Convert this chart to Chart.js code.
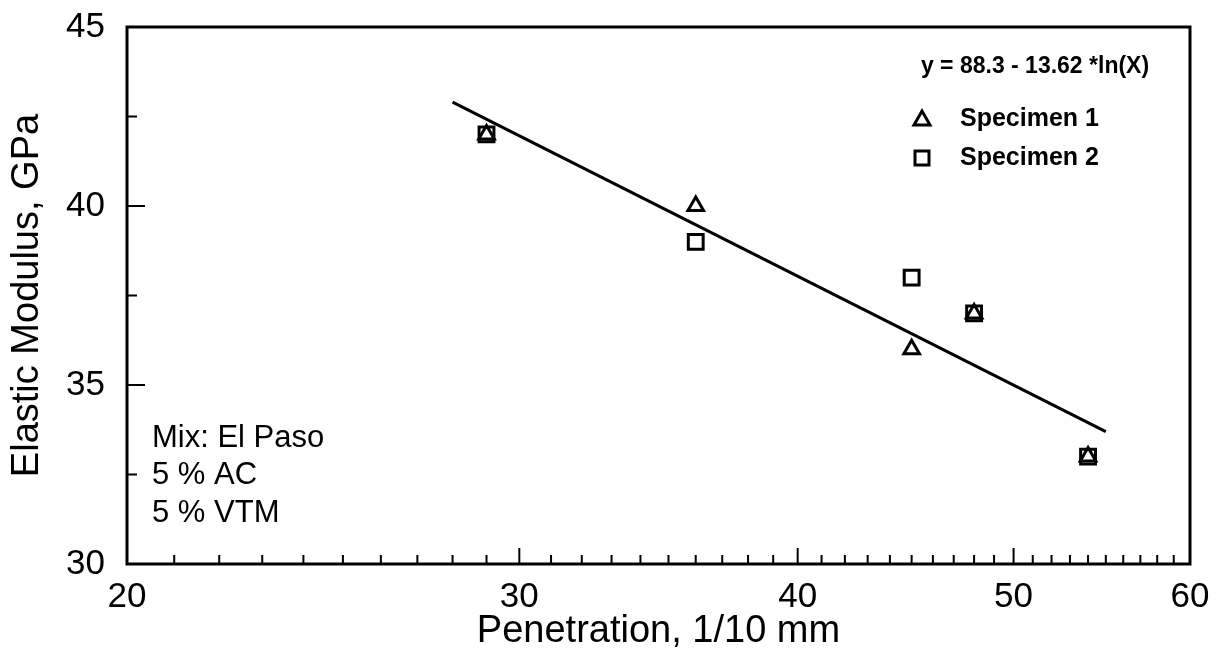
<!DOCTYPE html>
<html>
<head>
<meta charset="utf-8">
<title>Elastic Modulus vs Penetration</title>
<script src="https://cdn.jsdelivr.net/npm/chart.js@4.4.1/dist/chart.umd.min.js"></script>
<style>
  html, body { margin: 0; padding: 0; background: #fff; }
  canvas { display: block; }
</style>
</head>
<body>
<canvas id="chart" width="1217" height="658"></canvas>
<script>
// data
const penetration = [29, 36, 45, 48, 54];
const specimen1 = [42, 40, 36, 37, 33];
const specimen2 = [42, 39, 38, 37, 33];
// regression line end points (straight on a log x axis)
const fitX = [28, 55];
const fitY = [42.9, 33.7];
const xTicks = [20, 30, 40, 50, 60];
const yTicks = [30, 35, 40, 45];
const equation = 'y = 88.3 - 13.62 *ln(X)';
const seriesNames = ['Specimen 1', 'Specimen 2'];
const notes = ['Mix: El Paso', '5 % AC', '5 % VTM'];

const FONT = '"Liberation Sans", Arial, Helvetica, sans-serif';

function toPoints(xs, ys) {
  return xs.map((v, i) => ({ x: v, y: ys[i] }));
}

// frame, inward tick marks, notes and legend
const decor = {
  id: 'decor',
  afterDatasetsDraw(chart) {
    const { ctx, chartArea: a, scales: { x, y } } = chart;
    ctx.save();
    ctx.strokeStyle = '#000';
    ctx.lineWidth = 3;
    ctx.strokeRect(a.left, a.top, a.right - a.left, a.bottom - a.top);

    ctx.lineWidth = 2;
    ctx.beginPath();
    for (let v = 21; v < 60; v++) {
      const px = x.getPixelForValue(v);
      const len = xTicks.includes(v) ? 16 : 9;
      ctx.moveTo(px, a.bottom);
      ctx.lineTo(px, a.bottom - len);
    }
    for (let v = 32.5; v < 45; v += 2.5) {
      const py = y.getPixelForValue(v);
      const len = yTicks.includes(v) ? 18 : 10;
      ctx.moveTo(a.left, py);
      ctx.lineTo(a.left + len, py);
    }
    ctx.stroke();

    // notes, lower left
    ctx.fillStyle = '#000';
    ctx.textBaseline = 'middle';
    ctx.textAlign = 'left';
    ctx.font = '31px ' + FONT;
    notes.forEach((t, i) => ctx.fillText(t, a.left + 25, 438 + i * 37.5));

    // equation and legend, upper right
    ctx.font = 'bold 23px ' + FONT;
    ctx.textAlign = 'center';
    ctx.fillText(equation, 1035, 67);
    ctx.textAlign = 'left';
    ctx.font = 'bold 25px ' + FONT;
    ctx.fillText(seriesNames[0], 960, 119);
    ctx.fillText(seriesNames[1], 960, 158);

    ctx.lineWidth = 3;
    ctx.beginPath();
    ctx.moveTo(922, 111);
    ctx.lineTo(930, 125);
    ctx.lineTo(914, 125);
    ctx.closePath();
    ctx.stroke();
    ctx.strokeRect(915, 151, 14, 14);
    ctx.restore();
  }
};

new Chart(document.getElementById('chart'), {
  data: {
    datasets: [
      {
        type: 'line',
        data: toPoints(fitX, fitY),
        borderColor: '#000',
        borderWidth: 3,
        pointRadius: 0,
        fill: false
      },
      {
        type: 'scatter',
        label: seriesNames[1],
        data: toPoints(penetration, specimen2),
        pointStyle: 'rect',
        pointRadius: 10.5,
        borderColor: '#000',
        backgroundColor: 'rgba(0,0,0,0)',
        borderWidth: 3
      },
      {
        type: 'scatter',
        label: seriesNames[0],
        data: toPoints(penetration, specimen1),
        pointStyle: 'triangle',
        pointRadius: 9,
        borderColor: '#000',
        backgroundColor: 'rgba(0,0,0,0)',
        borderWidth: 3
      }
    ]
  },
  options: {
    responsive: false,
    animation: false,
    layout: { padding: { top: 27, right: 27, left: 0, bottom: 0 } },
    plugins: {
      legend: { display: false },
      tooltip: { enabled: false }
    },
    scales: {
      x: {
        type: 'logarithmic',
        min: 20,
        max: 60,
        grid: { display: false },
        border: { display: false },
        afterBuildTicks: (scale) => { scale.ticks = xTicks.map(v => ({ value: v })); },
        afterFit: (scale) => {
          scale.height = 94;
          scale.paddingLeft = 0;
          scale.paddingRight = 0;
        },
        ticks: {
          autoSkip: false,
          maxRotation: 0,
          color: '#000',
          padding: 4,
          font: { family: FONT, size: 35 },
          callback: (v) => String(v)
        },
        title: {
          display: true,
          text: 'Penetration, 1/10 mm',
          color: '#000',
          padding: 4,
          font: { family: FONT, size: 38 }
        }
      },
      y: {
        min: 30,
        max: 45,
        grid: { display: false },
        border: { display: false },
        afterBuildTicks: (scale) => { scale.ticks = yTicks.map(v => ({ value: v })); },
        afterFit: (scale) => {
          scale.width = 127;
          scale.paddingTop = 0;
          scale.paddingBottom = 0;
        },
        ticks: {
          color: '#000',
          padding: 14,
          font: { family: FONT, size: 35 }
        },
        title: {
          display: true,
          text: 'Elastic Modulus, GPa',
          color: '#000',
          padding: 5,
          font: { family: FONT, size: 38 }
        }
      }
    }
  },
  plugins: [decor]
});
</script>
</body>
</html>
